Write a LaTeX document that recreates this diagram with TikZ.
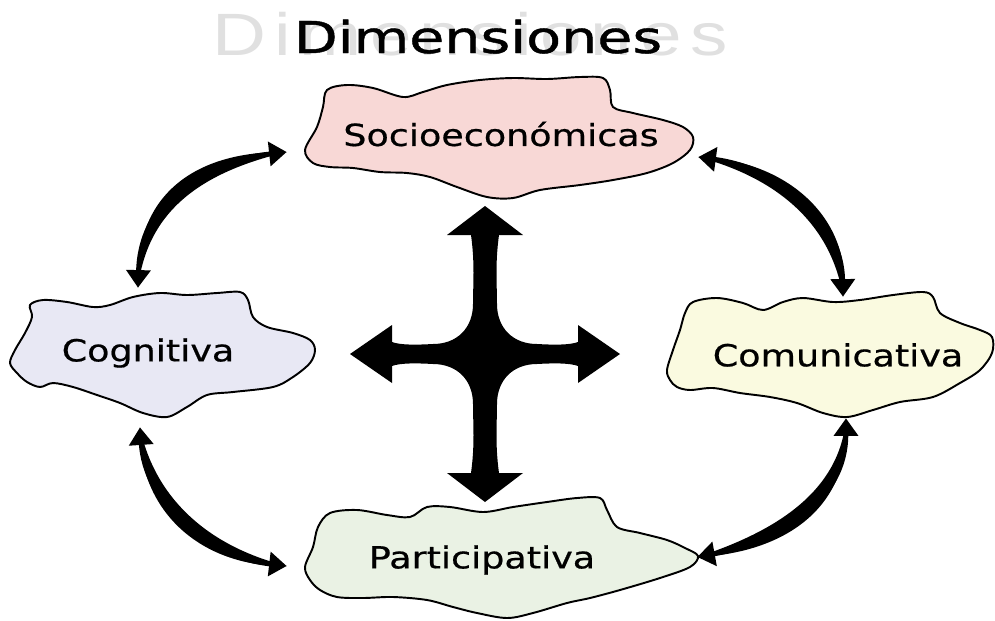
\documentclass[tikz,border=0pt]{standalone}
\usepackage{fontspec}
\usetikzlibrary{arrows.meta,calc}

\newfontfamily\rotulo[FakeStretch=1.2,FakeBold=0.6]{DejaVu Sans}
\newfontfamily\titulo[FakeStretch=1.3,FakeBold=1]{DejaVu Sans}
\newfontfamily\sombra[FakeStretch=1.25,LetterSpace=14]{Liberation Sans}

\definecolor{rosa}{RGB}{248,216,214}
\definecolor{lila}{RGB}{232,232,244}
\definecolor{crema}{RGB}{250,250,224}
\definecolor{verde}{RGB}{234,242,228}
\definecolor{gris}{RGB}{224,224,224}

\newcommand{\flecha}[4]{%
  \fill (#1) .. controls ($#2!6.5pt!90:#3$) and ($#3!6.5pt!90:(#4)$) .. (#4)
        .. controls ($#3!6.5pt!-90:(#4)$) and ($#2!6.5pt!-90:#3$) .. (#1) -- cycle;
  \draw[line width=2.6pt, {Triangle[width=13.5pt,length=10pt]}-{Triangle[width=13.5pt,length=10pt]}] (#1) .. controls #2 and #3 .. (#4);
}

\begin{document}
\begin{tikzpicture}[x=0.02cm, y=-0.02cm,
    mancha/.style={draw=black, line width=1.1pt},
    dimension/.style={font=\rotulo\fontsize{17.3}{21}\selectfont, inner sep=0pt}]

		\useasboundingbox (0,0) rectangle (995,620);

		\node (sombra) at (212,55) [anchor=base west, inner sep=0pt, text=gris, font=\sombra\fontsize{34}{40}\selectfont] {Dimensiones};
		\node (titulo) at (478,53) [anchor=base, inner sep=0pt, font=\titulo\fontsize{25}{30}\selectfont] {Dimensiones};

		\draw[mancha, fill=rosa] plot[smooth cycle, tension=0.55] coordinates {(305,150) (317,127) (323,107) (327,90) (347,85) (373,88) (403,97) (423,92) (447,85) (480,80) (513,78) (547,79) (580,77) (603,78) (610,90) (613,107) (633,113) (663,120) (683,127) (693,137) (690,150) (673,163) (647,173) (613,180) (580,185) (540,190) (513,198) (487,197) (457,187) (430,177) (407,173) (380,172) (353,168) (330,167) (313,163)};
		\draw[mancha, fill=lila] plot[smooth cycle, tension=0.55] coordinates {(10,363) (15,350) (25,333) (32,317) (30,305) (43,300) (67,302) (93,307) (110,305) (133,297) (160,293) (187,295) (217,293) (240,292) (248,300) (253,317) (267,327) (293,333) (310,340) (315,350) (310,363) (293,377) (273,387) (233,392) (207,395) (187,407) (167,417) (143,413) (120,403) (97,395) (73,387) (53,383) (40,387) (27,382) (17,373)};
		\draw[mancha, fill=crema] plot[smooth cycle, tension=0.55] coordinates {(667,370) (673,350) (680,330) (685,313) (693,302) (717,298) (743,303) (763,310) (783,302) (803,298) (833,302) (860,300) (893,295) (923,292) (933,297) (940,313) (960,323) (980,330) (992,337) (992,353) (980,370) (960,383) (933,397) (900,402) (873,410) (847,417) (823,413) (797,403) (770,397) (740,393) (713,388) (690,390) (677,387) (670,380)};
		\draw[mancha, fill=verde] plot[smooth cycle, tension=0.55] coordinates {(305,567) (313,547) (318,527) (330,513) (357,510) (387,515) (410,517) (427,507) (450,507) (483,512) (513,507) (547,502) (577,498) (600,498) (607,510) (617,527) (640,533) (667,540) (685,548) (698,556) (690,567) (660,578) (620,590) (590,598) (567,603) (533,613) (507,618) (477,613) (453,607) (427,600) (393,597) (363,598) (337,597) (320,590) (310,580)};

		\node (socio) at (501,134) [dimension, minimum width=8.4cm, minimum height=2.6cm] {Socioeconómicas};
		\node (cog) at (148,353) [dimension, minimum width=6cm, minimum height=2.76cm] {Cognitiva};
		\node (com) at (838,355) [dimension, minimum width=6.8cm, minimum height=2.4cm] {Comunicativa};
		\node (part) at (482,560) [dimension, minimum width=8cm, minimum height=2.4cm] {Participativa};

		\coordinate (centro) at (485,354);
		\fill[shift={(centro)}] (0,-148) -- (38,-119) -- (14,-119)
		  .. controls (10,-90) and (12,-70) .. (12,-50) .. controls (12,-26) and (28,-10) .. (52,-10)
		  .. controls (70,-9) and (85,-9) .. (93,-12) -- (93,-29) -- (135,0) -- (93,29) -- (93,12)
		  .. controls (85,9) and (70,9) .. (52,10) .. controls (28,10) and (12,26) .. (12,50)
		  .. controls (12,70) and (10,90) .. (14,119) -- (38,119) -- (0,148) -- (-38,119) -- (-14,119)
		  .. controls (-10,90) and (-12,70) .. (-12,50) .. controls (-12,26) and (-28,10) .. (-52,10)
		  .. controls (-70,9) and (-85,9) .. (-93,12) -- (-93,29) -- (-135,0) -- (-93,-29) -- (-93,-12)
		  .. controls (-85,-9) and (-70,-9) .. (-52,-10) .. controls (-28,-10) and (-12,-26) .. (-12,-50)
		  .. controls (-12,-70) and (-10,-90) .. (-14,-119) -- (-38,-119) -- cycle;

		\coordinate (a1s) at ([shift={(-10,4)}]cog.north);
		\coordinate (a1e) at ([shift={(-4,18)}]socio.west);
		\coordinate (a2s) at ([shift={(-13,23)}]socio.east);
		\coordinate (a2e) at ([shift={(5,2)}]com.north);
		\coordinate (a3s) at ([shift={(-8,5)}]cog.south);
		\coordinate (a3e) at ([shift={(5,6)}]part.west);
		\coordinate (a4s) at ([shift={(8,3)}]com.south);
		\coordinate (a4e) at ([shift={(15,-3)}]part.east);

		\flecha{a1s}{(140,205)}{(195,162)}{a1e}
		\flecha{a2s}{(780,168)}{(842,220)}{a2e}
		\flecha{a3s}{(145,500)}{(200,556)}{a3e}
		\flecha{a4s}{(846,500)}{(780,542)}{a4e}
	\end{tikzpicture}
\end{document}
